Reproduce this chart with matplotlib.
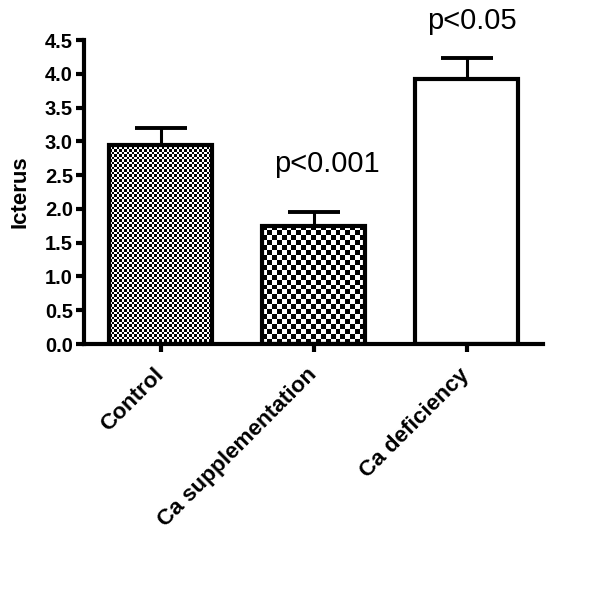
import numpy as np
import matplotlib
matplotlib.use("Agg")
import matplotlib.pyplot as plt

categories = ["Control", "Ca supplementation", "Ca deficiency"]
means = [2.95, 1.75, 3.93]
sem = [0.24, 0.20, 0.30]
pvals = ["", "p<0.001", "p<0.05"]
yticks = [0.0, 0.5, 1.0, 1.5, 2.0, 2.5, 3.0, 3.5, 4.0, 4.5]
cell_px = [2.5, 5.0, None]   # checkerboard cell size in pixels (None = plain white)

plt.rcParams['font.family'] = ['Liberation Sans', 'DejaVu Sans']

fig = plt.figure(figsize=(6.0, 5.97), dpi=100)
ax = fig.add_axes([84/600, 1-344/597, (543-84)/600, (344-40)/597])

x = np.arange(len(categories))
width = 0.67
ax.set_xlim(-0.5, 2.5)
ax.set_ylim(0, 4.5)

bars = ax.bar(x, means, width=width, facecolor='none', edgecolor='black',
              linewidth=3, zorder=3)

fig.canvas.draw()
px_per_x = ax.transData.transform((1, 0))[0] - ax.transData.transform((0, 0))[0]
px_per_y = ax.transData.transform((0, 1))[1] - ax.transData.transform((0, 0))[1]

for b, c in zip(bars, cell_px):
    x0, w, h = b.get_x(), b.get_width(), b.get_height()
    if c is None:
        arr = np.zeros((1, 1))
    else:
        nx = max(1, int(round(w * px_per_x / c)))
        ny = max(1, int(round(h * px_per_y / c)))
        ii, jj = np.indices((ny, nx))
        arr = ((ii + jj) % 2).astype(float)
    im = ax.imshow(arr, cmap='gray_r', vmin=0, vmax=1, extent=[x0, x0 + w, 0, h],
                   interpolation='nearest', aspect='auto', zorder=2, origin='lower')
    im.set_clip_path(b)

ax.set_xlim(-0.5, 2.5)
ax.set_ylim(0, 4.5)

ax.errorbar(x, means, yerr=[np.zeros(len(means)), sem], fmt='none', ecolor='black',
            elinewidth=2.2, capsize=18.5, capthick=2.8, zorder=1)

label_dx = [0.0, 0.09, 0.035]
label_dy = [0.0, 0.71, 0.55]
for xi, m, s, p, dx, dy in zip(x, means, sem, pvals, label_dx, label_dy):
    if p:
        ax.text(xi + dx, m + s + dy, p, ha='center', va='center', fontsize=21,
                clip_on=False)

for side in ['top', 'right']:
    ax.spines[side].set_visible(False)
for side in ['left', 'bottom']:
    ax.spines[side].set_linewidth(3)

ax.set_yticks(yticks)
ax.set_yticklabels([f"{t:.1f}" for t in yticks], fontsize=14.5, fontweight='bold')
ax.set_xticks(x)
ax.set_xticklabels(categories, rotation=45, ha='right', va='center',
                   rotation_mode='anchor', fontsize=16.2, fontweight='bold')
ax.tick_params(axis='both', length=6, width=3, direction='out')
ax.tick_params(axis='y', pad=2)
ax.tick_params(axis='x', pad=14)
ax.set_ylabel("Icterus", fontsize=16, fontweight='bold', labelpad=10)

fig.savefig("out.png", dpi=100)
